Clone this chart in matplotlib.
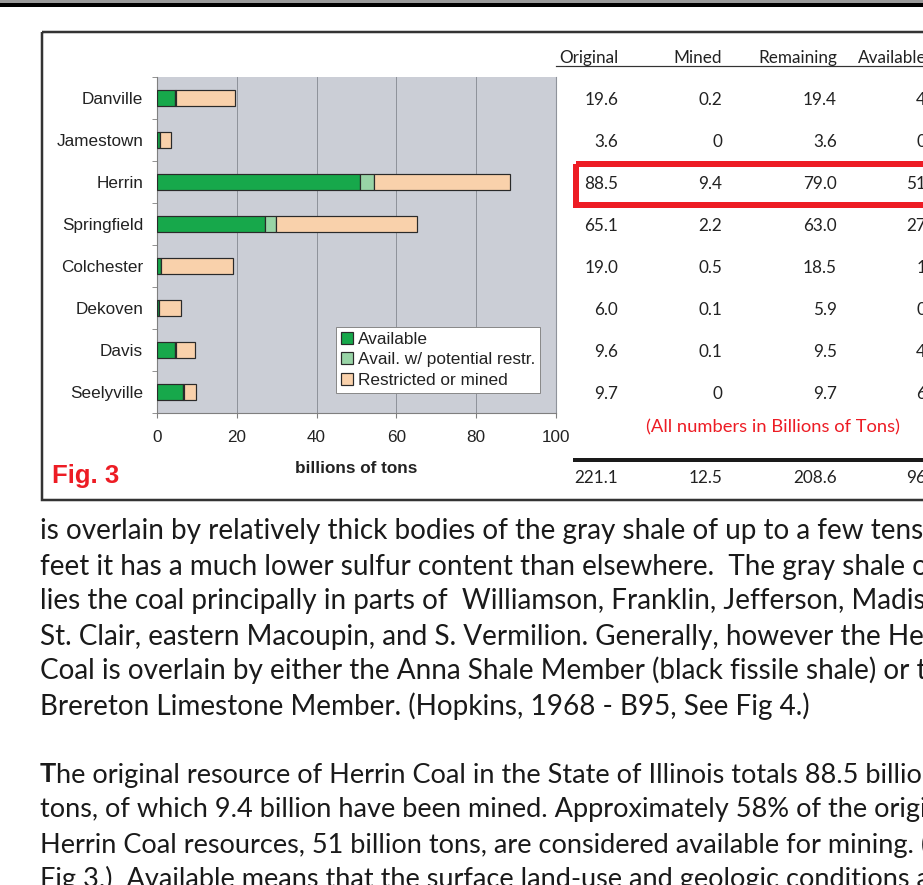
"""
Coal resources by seam (Fig. 3) with the summary table and page text around it
"""

import numpy as np
import matplotlib
matplotlib.use('Agg')  # no display
import matplotlib.pyplot as plt
from matplotlib.patches import Rectangle
from matplotlib.transforms import blended_transform_factory

W, H = 923, 885
PX = 0.72  # points per pixel at dpi 100

# ---- data: billions of tons ----
seams = ["Danville", "Jamestown", "Herrin", "Springfield",
         "Colchester", "Dekoven", "Davis", "Seelyville"]
original = np.array([19.6, 3.6, 88.5, 65.1, 19.0, 6.0, 9.6, 9.7])
available = np.array([4.5, 0.8, 51.0, 27.1, 1.0, 0.4, 4.5, 6.6])
avail_restr = np.array([0.3, 0.0, 3.3, 2.7, 0.0, 0.0, 0.3, 0.2])
restricted = original - available - avail_restr

table_headers = ["Original", "Mined", "Remaining", "Available"]
original_txt = ["19.6", "3.6", "88.5", "65.1", "19.0", "6.0", "9.6", "9.7"]
mined_txt = ["0.2", "0", "9.4", "2.2", "0.5", "0.1", "0.1", "0"]
remaining_txt = ["19.4", "3.6", "79.0", "63.0", "18.5", "5.9", "9.5", "9.7"]
available_txt = ["4.5", "0.8", "51.0", "27.1", "1.0", "0.4", "4.5", "6.6"]
totals_txt = ["221.1", "12.5", "208.6", "96.1"]

x_ticks = [0, 20, 40, 60, 80, 100]

para1 = [
    "is overlain by relatively thick bodies of the gray shale of up to a few tens of",
    "feet it has a much lower sulfur content than elsewhere.  The gray shale over-",
    "lies the coal principally in parts of  Williamson, Franklin, Jefferson, Madison,",
    "St. Clair, eastern Macoupin, and S. Vermilion. Generally, however the Herrin",
    "Coal is overlain by either the Anna Shale Member (black fissile shale) or the",
    "Brereton Limestone Member. (Hopkins, 1968 - B95, See Fig 4.)",
]
para2 = [
    "he original resource of Herrin Coal in the State of Illinois totals 88.5 billion",
    "tons, of which 9.4 billion have been mined. Approximately 58% of the original",
    "Herrin Coal resources, 51 billion tons, are considered available for mining. (See",
    "Fig 3.)  Available means that the surface land-use and geologic conditions are",
]

# ---- style ----
GREEN = "#17a84b"
LIGHT_GREEN = "#98d4a6"
PEACH = "#f9d1ab"
PLOT_BG = "#cbced6"
RED = "#ed1c24"
EDGE = "#2a2a2a"
CHART_FONT = "Liberation Sans"
BODY_FONT = "Lato"

fig = plt.figure(figsize=(W / 100, H / 100), dpi=100)
fig.patch.set_facecolor("white")

# page layer, pixel coordinates
page = fig.add_axes([0, 0, 1, 1])
page.set_xlim(0, W)
page.set_ylim(H, 0)
page.axis("off")

# top rule and figure frame
page.add_patch(Rectangle((0, 0), W, 3, color="#9a9a9a", lw=0))
page.add_patch(Rectangle((0, 3), W, 4, color="black", lw=0))
page.add_patch(Rectangle((41.5, 32), 1000, 468, fill=False, edgecolor="#333333", lw=2.5 * PX))

# ---- bar chart ----
ax = fig.add_axes([157 / W, 1 - 413 / H, 399 / W, 336 / H])
ax.set_facecolor(PLOT_BG)
y = np.arange(len(seams))
bar_h = 0.4
bar_kw = dict(height=bar_h, edgecolor=EDGE, linewidth=1.2 * PX, zorder=3)
ax.barh(y, available, color=GREEN, label="Available", **bar_kw)
ax.barh(y, avail_restr, left=available, color=LIGHT_GREEN,
        label="Avail. w/ potential restr.", **bar_kw)
ax.barh(y, restricted, left=available + avail_restr, color=PEACH,
        label="Restricted or mined", **bar_kw)

ax.set_xlim(0, 100)
ax.set_ylim(len(seams) - 0.5, -0.5)
ax.set_xticks(x_ticks)
ax.set_xticklabels([str(t) for t in x_ticks], fontsize=12.3, family=CHART_FONT, color="#222222")
ax.set_yticks(y)
ax.set_yticklabels(seams, fontsize=12.3, family=CHART_FONT, color="#222222")
ax.set_yticks(np.arange(-0.5, len(seams), 1), minor=True)
ax.tick_params(axis="y", which="major", length=0, pad=10)
ax.tick_params(axis="y", which="minor", length=5 * PX, color="#808080", direction="out")
ax.tick_params(axis="x", length=5 * PX, color="#808080", pad=9)
ax.xaxis.grid(True, color="#8f939b", lw=1 * PX)
ax.set_axisbelow(True)
ax.spines["top"].set_visible(False)
ax.spines["right"].set_color("#8f939b")
ax.spines["left"].set_color("#7f7f7f")
ax.spines["bottom"].set_color("#7f7f7f")
ax.set_xlabel("billions of tons", fontsize=12.3, family=CHART_FONT,
              fontweight="bold", color="#222222", labelpad=11)

leg = ax.legend(loc="lower left", bbox_to_anchor=(0.448, 0.06), fancybox=False,
                framealpha=1, edgecolor="#8a8a8a", borderaxespad=0,
                prop={"family": CHART_FONT, "size": 12.4},
                handlelength=0.72, handleheight=0.72, handletextpad=0.25,
                labelspacing=0.3, borderpad=0.3)
leg.get_frame().set_linewidth(1.0 * PX)
for txt in leg.get_texts():
    txt.set_color("#222222")

page.text(52, 476, "Fig. 3", fontsize=18.5, family=CHART_FONT, fontweight="bold",
          color=RED, va="center", ha="left")

# ---- table next to the chart ----
row_tf = blended_transform_factory(page.transData, ax.transData)
col_right = [618, 722, 837, 940]
header_x = [589, 698, 798, 858]
header_ha = ["center", "center", "center", "left"]
for name, hx, ha in zip(table_headers, header_x, header_ha):
    page.text(hx, 63, name, fontsize=12.3, family=BODY_FONT, color="#222222",
              ha=ha, va="baseline")
page.plot([556, W], [66, 66], color="#333333", lw=1.2 * PX)

columns = [original_txt, mined_txt, remaining_txt, available_txt]
for cx, col in zip(col_right, columns):
    for i, val in enumerate(col):
        page.text(cx, i + 0.05, val, transform=row_tf, fontsize=12.3, family=BODY_FONT,
                  color="#222222", ha="right", va="center")

# highlight box around the Herrin row
page.add_patch(Rectangle((576, 164), 500, 41, fill=False, edgecolor=RED, lw=6 * PX))

page.text(773, 427, "(All numbers in Billions of Tons)", fontsize=13.2, family=BODY_FONT,
          color=RED, ha="center", va="center")
page.plot([573, W], [459.5, 459.5], color="#1a1a1a", lw=4 * PX, solid_capstyle="butt")
for cx, val in zip(col_right, totals_txt):
    page.text(cx, 478, val, fontsize=12.3, family=BODY_FONT, color="#222222",
              ha="right", va="center")

# ---- body text below the figure ----
renderer = fig.canvas.get_renderer()


def fit_size(text, width_px, **kw):
    t = page.text(0, 0, text, fontsize=20, **kw)
    w = t.get_window_extent(renderer).width
    t.remove()
    return 20 * width_px / w


size1 = fit_size("is overlain by relatively thick bodies of the gray shale of up to a few tens",
                 884, family=BODY_FONT)
for i, line in enumerate(para1):
    page.text(40, 539.5 + 35 * i, line, fontsize=size1, family=BODY_FONT,
              color="#1a1a1a", ha="left", va="baseline")

size2 = fit_size("tons, of which 9.4 billion have been mined. Approximately 58% of the orig",
                 884, family=BODY_FONT)
t_bold = page.text(40, 782.5, "T", fontsize=size2, family=BODY_FONT, fontweight="bold",
                   color="#1a1a1a", ha="left", va="baseline")
tw = t_bold.get_window_extent(renderer).width
for i, line in enumerate(para2):
    x0 = 40 + tw if i == 0 else 40
    page.text(x0, 782.5 + 35 * i, line, fontsize=size2, family=BODY_FONT,
              color="#1a1a1a", ha="left", va="baseline")

fig.savefig("out.png", dpi=100)
plt.close(fig)
